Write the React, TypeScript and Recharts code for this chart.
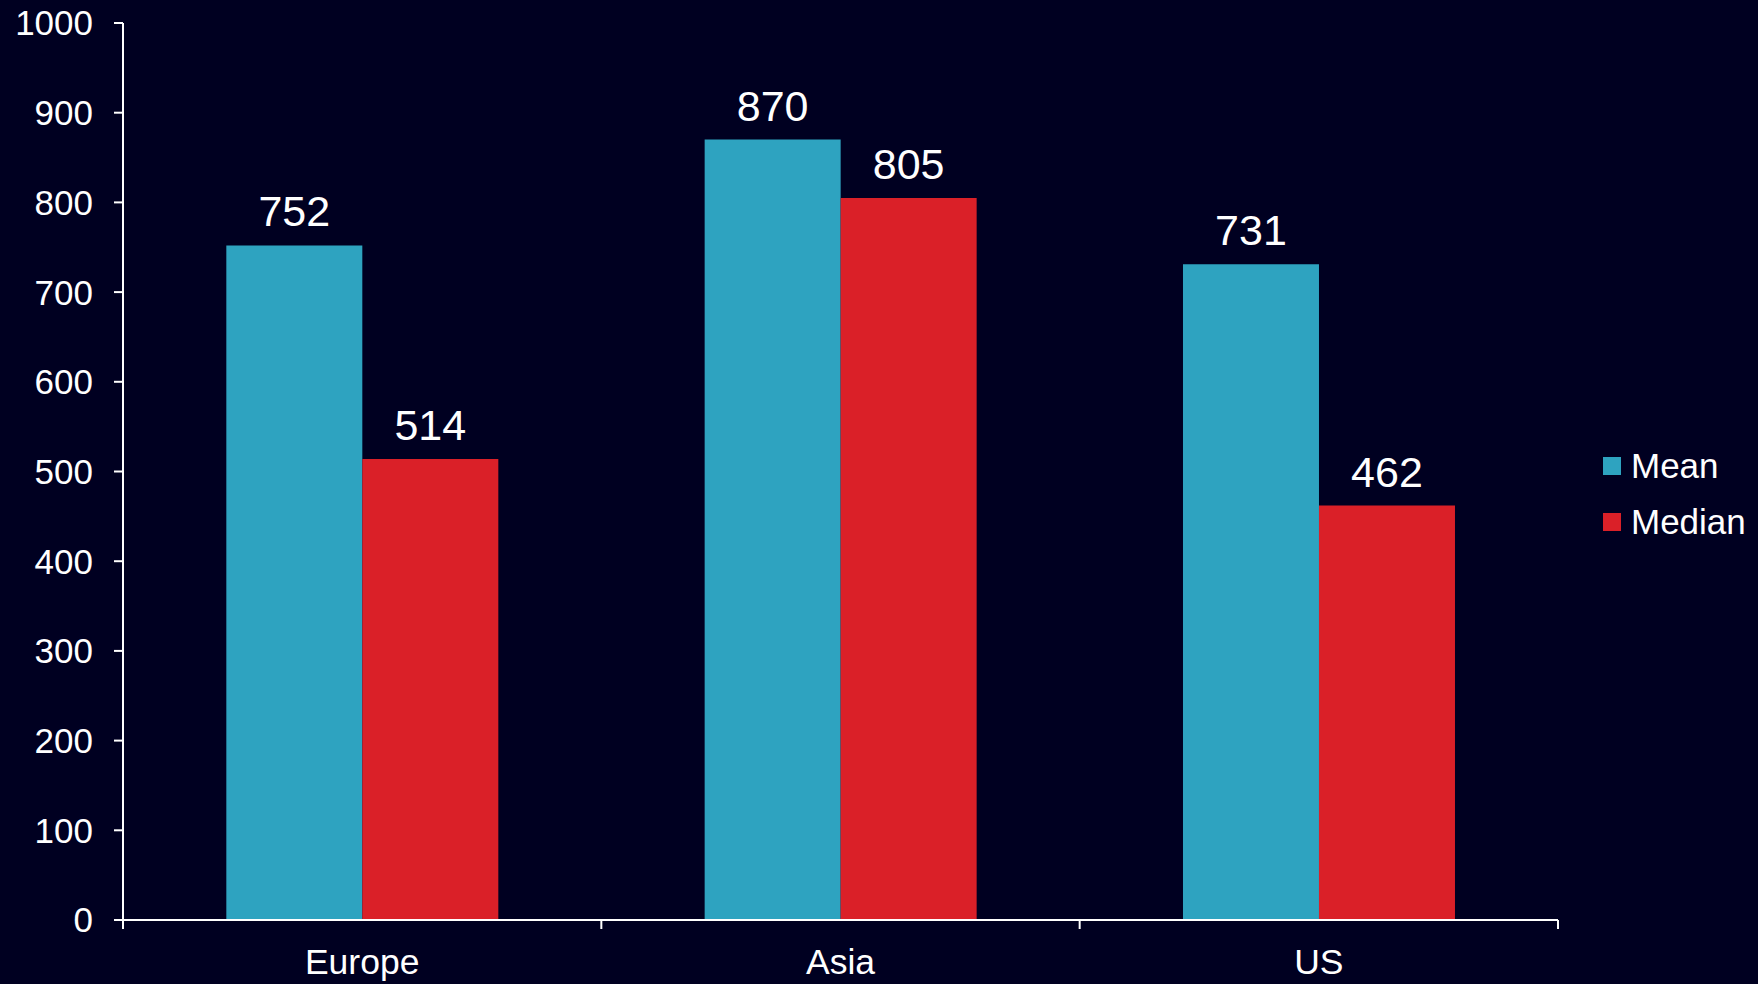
import React from "react";
import { BarChart, Bar, XAxis, YAxis, Legend, LabelList } from "recharts";

const categories = ["Europe", "Asia", "US"];
const meanValues = [752, 870, 731];
const medianValues = [514, 805, 462];
const yTicks = [0, 100, 200, 300, 400, 500, 600, 700, 800, 900, 1000];
const seriesNames = ["Mean", "Median"];
const seriesColors = ["#2EA3C0", "#DA2028"];

const data = categories.map((c, i) => ({ name: c, Mean: meanValues[i], Median: medianValues[i] }));

const FONT = "'Liberation Sans', Arial, sans-serif";
const BG = "#000021";

const XTick = (props: any) => {
  const { x, y, payload, index, visibleTicksCount } = props;
  const half = payload && payload.offset ? payload.offset : 0;
  const last = index === (visibleTicksCount ? visibleTicksCount - 1 : categories.length - 1);
  return (
    <g>
      <line x1={x - half} x2={x - half} y1={y} y2={y + 9} stroke="#fff" strokeWidth={2} />
      {last && <line x1={x + half} x2={x + half} y1={y} y2={y + 9} stroke="#fff" strokeWidth={2} />}
      <text x={x} y={y + 54} textAnchor="middle" fill="#fff" fontSize={35.5} fontFamily={FONT}>
        {payload.value}
      </text>
    </g>
  );
};

const LegendContent = () => (
  <div style={{ paddingLeft: 45, paddingTop: 4, fontFamily: FONT }}>
    {seriesNames.map((n, i) => (
      <div key={n} style={{ display: "flex", alignItems: "center", height: 56 }}>
        <div style={{ width: 18, height: 18, background: seriesColors[i], marginRight: 10 }} />
        <span style={{ color: "#fff", fontSize: 35 }}>{n}</span>
      </div>
    ))}
  </div>
);

export default function App() {
  return (
    <div style={{ position: "absolute", left: 0, top: 0, width: 1758, height: 984, background: BG }}>
      <BarChart
        width={1758}
        height={984}
        data={data}
        margin={{ top: 23, right: 0, bottom: 0, left: 0 }}
        barCategoryGap="21.6%"
        barGap={0}
      >
        <XAxis
          dataKey="name"
          height={64}
          axisLine={{ stroke: "#fff", strokeWidth: 2 }}
          tickLine={false}
          tickSize={0}
          tickMargin={0}
          tick={<XTick />}
          interval={0}
        />
        <YAxis
          width={123}
          domain={[0, 1000]}
          ticks={yTicks}
          interval={0}
          axisLine={{ stroke: "#fff", strokeWidth: 2 }}
          tickLine={{ stroke: "#fff", strokeWidth: 2 }}
          tickSize={9}
          tickMargin={21}
          tick={{ fill: "#fff", fontSize: 35, fontFamily: FONT }}
        />
        <Legend
          layout="vertical"
          align="right"
          verticalAlign="middle"
          content={<LegendContent />}
          wrapperStyle={{ width: 200 }}
        />
        <Bar dataKey="Mean" fill={seriesColors[0]} isAnimationActive={false}>
          <LabelList dataKey="Mean" position="top" offset={19} fill="#fff" fontSize={43} fontFamily={FONT} />
        </Bar>
        <Bar dataKey="Median" fill={seriesColors[1]} isAnimationActive={false}>
          <LabelList dataKey="Median" position="top" offset={19} fill="#fff" fontSize={43} fontFamily={FONT} />
        </Bar>
      </BarChart>
    </div>
  );
}
